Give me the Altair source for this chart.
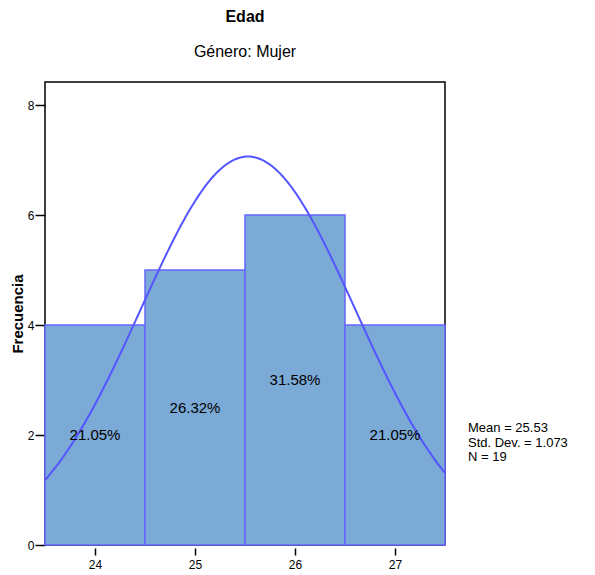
import altair as alt
import pandas as pd
import numpy as np

# Data
ages = [24, 25, 26, 27]
counts = [4, 5, 6, 4]
percents = ["21.05%", "26.32%", "31.58%", "21.05%"]
mean = 25.53
std = 1.073
n = 19
stats_lines = ["Mean = 25.53", "Std. Dev. = 1.073", "N = 19"]
y_ticks = [0, 2, 4, 6, 8]

bars = pd.DataFrame({
    "edad": ages,
    "lo": [a - 0.5 for a in ages],
    "hi": [a + 0.5 for a in ages],
    "count": counts,
    "half": [c / 2 for c in counts],
    "pct": percents,
})

# normal curve scaled to counts (bin width 1)
xs = np.linspace(23.5, 27.5, 200)
ys = n * 1.0 / (std * np.sqrt(2 * np.pi)) * np.exp(-0.5 * ((xs - mean) / std) ** 2)
curve = pd.DataFrame({"x": xs, "y": ys})

FONT = "Liberation Sans"
xscale = alt.Scale(domain=[23.5, 27.5], nice=False, zero=False)
yscale = alt.Scale(domain=[0, 8.42], nice=False)

xaxis = alt.Axis(values=ages, format="d", title=None, domain=False, tickSize=7,
                 offset=3, tickColor="black", tickWidth=1.5,
                 labelColor="black", labelFontSize=12, labelFont=FONT,
                 labelPadding=4, grid=False)
yaxis = alt.Axis(values=y_ticks, format="d", title="Frecuencia",
                 titleFont=FONT, titleFontSize=15, titleFontWeight="bold",
                 titleColor="black", titlePadding=2,
                 domain=False, tickSize=10, tickColor="black",
                 tickWidth=1.5, labelColor="black", labelFontSize=12,
                 labelFont=FONT, labelPadding=1, grid=False)

bar_layer = alt.Chart(bars).mark_rect(
    fill="#7BAAD6", stroke="#6666FF", strokeWidth=1.5
).encode(
    x=alt.X("lo:Q", scale=xscale, axis=xaxis),
    x2="hi:Q",
    y=alt.Y("count:Q", scale=yscale, axis=yaxis),
    y2=alt.datum(0),
)

curve_layer = alt.Chart(curve).mark_line(
    color="#5555FF", strokeWidth=2, clip=True
).encode(
    x=alt.X("x:Q", scale=xscale, axis=xaxis),
    y=alt.Y("y:Q", scale=yscale, axis=yaxis),
)

pct_layer = alt.Chart(bars).mark_text(
    font=FONT, fontSize=15, color="black"
).encode(
    x=alt.X("edad:Q", scale=xscale, axis=xaxis),
    y=alt.Y("half:Q", scale=yscale, axis=yaxis),
    text="pct:N",
)

stats = pd.DataFrame({"t": ["\n".join(stats_lines)]})
stats_layer = alt.Chart(stats).mark_text(
    font=FONT, fontSize=13, color="black", align="left", baseline="middle",
    lineBreak="\n", lineHeight=14.5,
).encode(
    x=alt.value(423),
    y=alt.value(346),
    text="t:N",
)

chart = alt.layer(bar_layer, curve_layer, pct_layer, stats_layer).properties(
    width=400,
    height=463,
    title=alt.TitleParams(
        text="Edad", subtitle="Género: Mujer",
        font=FONT, fontSize=16, fontWeight="bold", color="black",
        subtitleFont=FONT, subtitleFontSize=16, subtitleColor="black",
        subtitlePadding=19, offset=22, anchor="middle",
    ),
    autosize=alt.AutoSizeParams(type="none"),
    padding={"left": 37, "top": 74, "right": 140, "bottom": 30},
).configure_view(
    stroke="black", strokeWidth=1.5
)

chart.save("out.html", embed_options={"renderer": "svg", "actions": False})
